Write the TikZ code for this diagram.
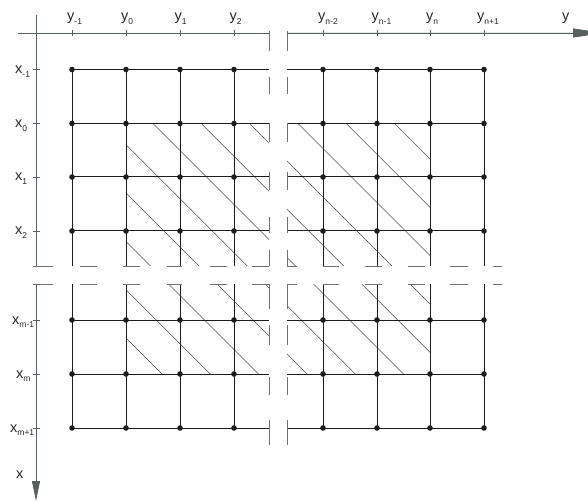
\documentclass[tikz,border=0pt]{standalone}
\usepackage{fontspec}
\setmainfont{Liberation Sans}
\usetikzlibrary{arrows.meta}
\definecolor{axisgray}{HTML}{55605F}
\definecolor{breakgray}{HTML}{6E7272}
\definecolor{hatchgray}{HTML}{505050}
\definecolor{gridblack}{HTML}{1C1C1C}
\newcommand{\lsub}[1]{\raisebox{-3.5pt}{\fontsize{8.5}{9}\selectfont #1}}
\begin{document}
\begin{tikzpicture}[x=1pt,y=-1pt,
  gridline/.style={line width=1pt, color=gridblack},
  axisline/.style={line width=0.9pt, color=axisgray},
  breakline/.style={line width=0.9pt, color=breakgray, line cap=rect},
  hatchline/.style={line width=0.55pt, color=hatchgray},
  gdot/.style={circle, fill=gridblack, inner sep=0pt, minimum size=5.6pt},
  lab/.style={font=\fontsize{14.5}{14.5}\selectfont, inner sep=0pt, anchor=base west, text=black!85},
  tip/.style={-{Triangle[length=30pt,width=9pt]}}
]
\useasboundingbox (0,0) rectangle (588,502);

% hatching
\begin{scope}
  \clip (126,123.5) rectangle (269,266) (287,123.5) rectangle (430,266)
        (126,284) rectangle (269,374) (287,284) rectangle (430,374);
  \foreach \c in {-212,-163.7,-115.4,-67.1,-18.8,29.5,77.8,126.1,174.4,222.7,271}
    \draw[hatchline] ({\c+100},100) -- ({\c+400},400);
\end{scope}

% grid lines
\foreach \r in {69.5,123.5,177,231,320,374,428} {
  \draw[gridline] (72,\r) -- (269,\r);
  \draw[gridline] (287,\r) -- (484,\r);
}
\foreach \c in {72,126,180,234,323,377,430,484} {
  \draw[gridline] (\c,69.5) -- (\c,266);
  \draw[gridline] (\c,284) -- (\c,428);
}
% dots
\foreach \c in {72,126,180,234,323,377,430,484}
  \foreach \r in {69.5,123.5,177,231,320,374,428}
    \node[gdot] (d-\c-\r) at (\c,\r) {};

% break lines
\foreach \a/\b in {31/51,77/94,123/142,172/190,217/233,250/266,284/309,325/345,377/395,420/445} {
  \draw[breakline] (269,\a) -- (269,\b);
  \draw[breakline] (287,\a) -- (287,\b);
}
\foreach \a/\b in {33/53,80/97,123/140,167/182,210/227,252/269,287/297,323/339,365/382,408/425,450/468,493/502} {
  \draw[breakline] (\a,266) -- (\b,266);
  \draw[breakline] (\a,284) -- (\b,284);
}

% axes
\coordinate (ya0) at (18,33);
\coordinate (ya1) at (269,33);
\coordinate (ya2) at (287,33);
\coordinate (ya3) at (603,33);
\coordinate (xa0) at (36,15);
\coordinate (xa1) at (36,266);
\coordinate (xa2) at (36,284);
\coordinate (xa3) at (36,501);
\draw[axisline] (ya0) -- (ya1);
\draw[axisline,tip,fill=axisgray!70!black] (ya2) -- (ya3);
\draw[axisline] (xa0) -- (xa1);
\draw[axisline,-{Triangle[length=20pt,width=8pt]},fill=axisgray!70!black] (xa2) -- (xa3);

% ticks
\foreach \c in {72,126,180,234,323,377,430,484}
  \draw[axisline] (\c,30.5) -- (\c,36.5);
\foreach \r in {69.5,123.5,177,231,320,374,428}
  \draw[axisline] (33,\r) -- (39.5,\r);

% y labels
\node[lab] (lym1) at (67,21) {y\lsub{-1}};
\node[lab] (ly0) at (121,21) {y\lsub{0}};
\node[lab] (ly1) at (174.5,21) {y\lsub{1}};
\node[lab] (ly2) at (229.5,21) {y\lsub{2}};
\node[lab] (lyn2) at (318,21) {y\lsub{n-2}};
\node[lab] (lyn1) at (371.5,21) {y\lsub{n-1}};
\node[lab] (lyn) at (426,21) {y\lsub{n}};
\node[lab] (lyn3) at (477,21) {y\lsub{n+1}};
\node[lab] (ly) at (562,21) {y};

% x labels
\node[lab] (lxm1) at (15,74) {x\lsub{-1}};
\node[lab] (lx0) at (15,128) {x\lsub{0}};
\node[lab] (lx1) at (15,181) {x\lsub{1}};
\node[lab] (lx2) at (15,235) {x\lsub{2}};
\node[lab] (lxmm) at (12,324) {x\lsub{m-1}};
\node[lab] (lxm) at (16,378) {x\lsub{m}};
\node[lab] (lxmp) at (10,432) {x\lsub{m+1}};
\node[lab] (lx) at (16,478) {x};
\end{tikzpicture}
\end{document}
